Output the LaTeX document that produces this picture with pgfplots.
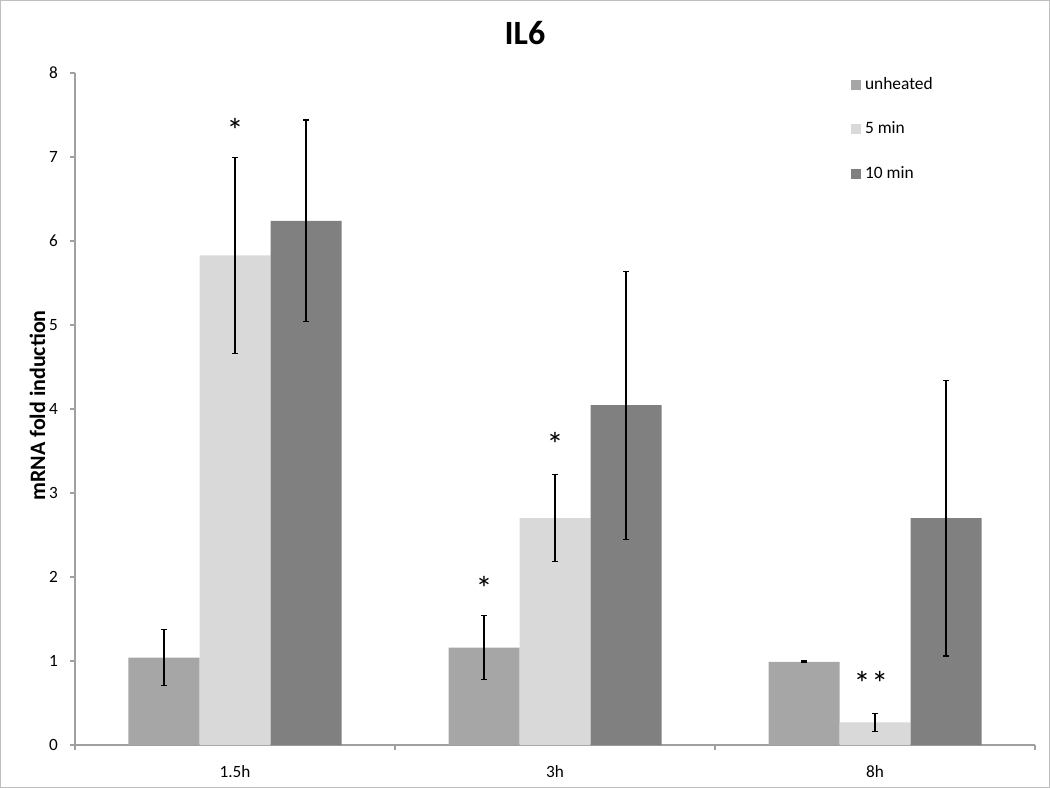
\documentclass[border=0pt]{standalone}
\usepackage{fontspec}
\setmainfont{Carlito}
\usepackage{pgfplots}
\usepackage{pgfplotstable}
\pgfplotsset{compat=1.18}
\definecolor{cUn}{RGB}{166,166,166}
\definecolor{cFive}{RGB}{217,217,217}
\definecolor{cTen}{RGB}{128,128,128}
\definecolor{axgray}{RGB}{160,160,160}
\definecolor{framegray}{RGB}{191,191,191}

\pgfplotstableread{
x y err
0 1.04 0.337
1 1.16 0.385
2 0.99 0.01
}\unheated
\pgfplotstableread{
x y err
0 5.83 1.165
1 2.70 0.515
2 0.27 0.105
}\fivemin
\pgfplotstableread{
x y err
0 6.24 1.20
1 4.045 1.595
2 2.70 1.64
}\tenmin

\begin{document}
\begin{tikzpicture}
\useasboundingbox (0,0) rectangle (525pt,394pt);
\draw[framegray, line width=0.6pt] (0.3pt,0.3pt) rectangle (524.7pt,393.7pt);
\begin{axis}[
  at={(37.5pt,21.5pt)}, anchor=south west,
  scale only axis, width=480pt, height=336pt,
  xmin=-0.5, xmax=2.5, ymin=0, ymax=8,
  axis x line*=bottom, axis y line*=left,
  axis line style={axgray, line width=0.75pt, -},
  ytick={0,1,...,8},
  xtick={0,1,2}, xticklabels={1.5h,3h,8h},
  minor xtick={-0.5,0.5,1.5,2.5},
  tick align=outside,
  major tick length=2.5pt, minor tick length=2.5pt,
  tick style={axgray, line width=0.75pt},
  major x tick style={draw=none},
  ticklabel style={font=\fontsize{8.6}{10}\selectfont},
  yticklabel style={xshift=-2.5pt},
  xticklabel style={yshift=-4pt},
  /pgf/number format/assume math mode=true,
  ybar=0pt, bar width=35.5pt,
  legend style={draw=none, fill=none, at={(axis description cs:0.808,1.0)}, anchor=north west,
    font=\fontsize{8.7}{10}\selectfont, row sep=10.75pt, inner sep=0pt},
  legend cell align=left,
  legend image code/.code={\fill[#1] (0pt,-2.5pt) rectangle (5pt,2.5pt);},
  error bars/error bar style={black, line width=0.55pt},
  error bars/error mark options={rotate=90, mark size=1.5pt, black, line width=0.55pt},
]
\addplot[fill=cUn, draw=none, error bars/.cd, y dir=both, y explicit] table[x=x, y=y, y error=err]{\unheated};
\addplot[fill=cFive, draw=none, error bars/.cd, y dir=both, y explicit] table[x=x, y=y, y error=err]{\fivemin};
\addplot[fill=cTen, draw=none, error bars/.cd, y dir=both, y explicit] table[x=x, y=y, y error=err]{\tenmin};
\legend{unheated, 5 min, 10 min}
\node[font=\fontsize{17}{18}\selectfont, yshift=-3pt] at (axis cs:0,7.39) {*};
\node[font=\fontsize{17}{18}\selectfont, xshift=-35.5pt, yshift=-3pt] at (axis cs:1,1.94) {*};
\node[font=\fontsize{17}{18}\selectfont, yshift=-3pt] at (axis cs:1,3.65) {*};
\node[font=\fontsize{17}{18}\selectfont, xshift=-2pt, yshift=-4pt] at (axis cs:2,0.83) {*\hspace{0.5pt}*};
\end{axis}
\node[font=\bfseries\fontsize{17}{20}\selectfont] at (262.5pt,377.5pt) {IL6};
\node[rotate=90, font=\bfseries\fontsize{11}{13}\selectfont] at (18.75pt,191.25pt) {mRNA fold induction};
\end{tikzpicture}
\end{document}
